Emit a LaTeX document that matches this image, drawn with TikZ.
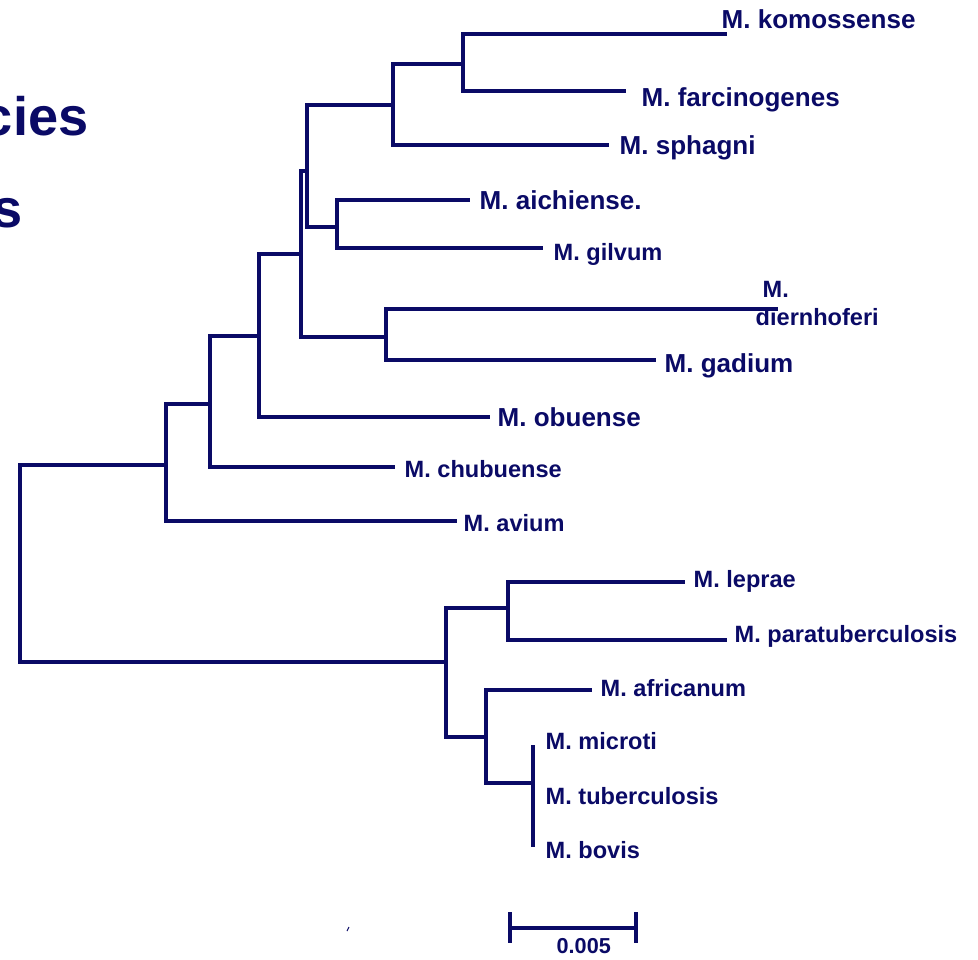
\documentclass[tikz,border=0pt]{standalone}
\usepackage{fontspec}
\setmainfont{Liberation Sans}
\usepackage{tikz}
\usetikzlibrary{positioning}
\usepackage{xcolor}
\definecolor{navy}{HTML}{0A0A66}

\tikzset{
  branch/.style={draw=navy,line width=0.95pt},
  taxon/.style={inner sep=0pt,anchor=base west,text=navy,font=\bfseries\fontsize{7.4}{8}\selectfont},
  taxonsm/.style={taxon,font=\bfseries\fontsize{6.7}{7.5}\selectfont},
  heading/.style={inner sep=0pt,anchor=base east,text=navy,font=\bfseries\fontsize{15.4}{17}\selectfont}
}

\begin{document}
\begin{tikzpicture}[x=0.01cm,y=-0.01cm]
  \useasboundingbox (0,0) rectangle (978,959);
  % title fragments
  \node[heading] (tA) at (89,135) {cies};
  \node[heading] (tB) at (23,227) {s};
  % inner nodes
  \coordinate (root) at (20,563);
  \coordinate (nA) at (166,465);
  \coordinate (nB) at (210,404);
  \coordinate (nC) at (259,336);
  \coordinate (nD) at (301,254);
  \coordinate (nD2) at (307,171);
  \coordinate (nG) at (393,105);
  \coordinate (nK) at (463,64);
  \coordinate (nH) at (337,227);
  \coordinate (nF) at (386,337);
  \coordinate (nL) at (446,662);
  \coordinate (nM) at (508,608);
  \coordinate (nN) at (486,737);
  \coordinate (nP) at (533,783);
  % leaf ends
  \coordinate (komo) at (727,34);
  \coordinate (farc) at (626,91);
  \coordinate (spha) at (609,145);
  \coordinate (aich) at (470,200);
  \coordinate (gilv) at (543,248);
  \coordinate (dier) at (778,309);
  \coordinate (gadi) at (656,360);
  \coordinate (obue) at (490,417);
  \coordinate (chub) at (395,467);
  \coordinate (aviu) at (457,521);
  \coordinate (lepr) at (685,582);
  \coordinate (para) at (727,640);
  \coordinate (afri) at (592,690);
  \coordinate (micr) at (533,745);
  \coordinate (tube) at (533,797);
  \coordinate (bovi) at (533,847);
  % branches
  \draw[branch] (root) |- (nA);
  \draw[branch] (root) |- (nL);
  \draw[branch] (nA) |- (nB);
  \draw[branch] (nA) |- (aviu);
  \draw[branch] (nB) |- (nC);
  \draw[branch] (nB) |- (chub);
  \draw[branch] (nC) |- (nD);
  \draw[branch] (nC) |- (obue);
  \draw[branch] (nD) |- (nD2);
  \draw[branch] (nD) |- (nF);
  \draw[branch] (nD2) |- (nG);
  \draw[branch] (nD2) |- (nH);
  \draw[branch] (nG) |- (nK);
  \draw[branch] (nG) |- (spha);
  \draw[branch] (nK) |- (komo);
  \draw[branch] (nK) |- (farc);
  \draw[branch] (nH) |- (aich);
  \draw[branch] (nH) |- (gilv);
  \draw[branch] (nF) |- (dier);
  \draw[branch] (nF) |- (gadi);
  \draw[branch] (nL) |- (nM);
  \draw[branch] (nL) |- (nN);
  \draw[branch] (nM) |- (lepr);
  \draw[branch] (nM) |- (para);
  \draw[branch] (nN) |- (afri);
  \draw[branch] (nN) |- (nP);
  \draw[branch] (nP) -- (micr);
  \draw[branch] (nP) -- (bovi);
  % labels
  \node[taxon] (lkomo) at (721,28) {M. komossense};
  \node[taxon] (lfarc) at (641,106) {M. farcinogenes};
  \node[taxon] (lspha) at (619,154) {M. sphagni};
  \node[taxon] (laich) at (479,209) {M. aichiense.};
  \node[taxonsm] (lgilv) at (553,260) {M. gilvum};
  \node[taxonsm] (ldierA) at (762,297) {M.};
  \node[taxonsm] (ldierB) at (755,325) {diernhoferi};
  \node[taxon] (lgadi) at (664,372) {M. gadium};
  \node[taxon] (lobue) at (497,426) {M. obuense};
  \node[taxonsm] (lchub) at (404,477) {M. chubuense};
  \node[taxonsm] (laviu) at (463,531) {M. avium};
  \node[taxonsm] (llepr) at (693,587) {M. leprae};
  \node[taxonsm] (lpara) at (734,642) {M. paratuberculosis};
  \node[taxonsm] (lafri) at (600,696) {M. africanum};
  \node[taxonsm] (lmicr) at (545,749) {M. microti};
  \node[taxonsm] (ltube) at (545,804) {M. tuberculosis};
  \node[taxonsm] (lbovi) at (545,858) {M. bovis};
  % scale bar
  \coordinate (sbL) at (510,928);
  \coordinate (sbR) at (636,928);
  \draw[branch] (sbL) -- (sbR);
  \draw[branch] ([yshift=0.16cm]sbL) -- ([yshift=-0.15cm]sbL);
  \draw[branch] ([yshift=0.16cm]sbR) -- ([yshift=-0.15cm]sbR);
  \node[taxonsm,font=\bfseries\fontsize{6.15}{7}\selectfont] (lsb) at (556,953) {0.005};
  \draw[navy,line width=0.3pt] (347,931) -- (349,927);
\end{tikzpicture}
\end{document}
